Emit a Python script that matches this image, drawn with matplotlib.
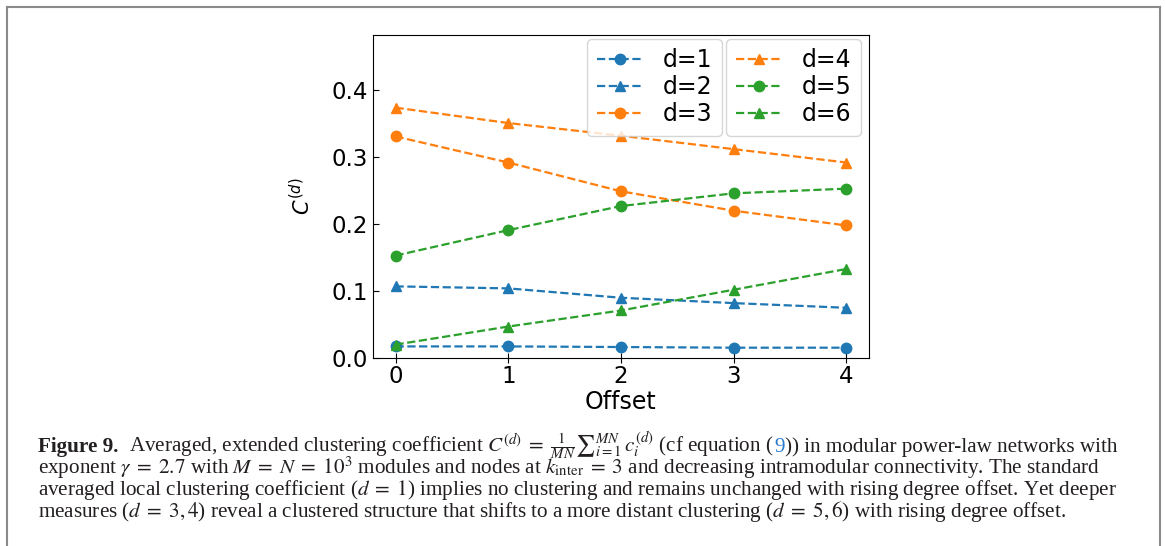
import matplotlib
matplotlib.use("Agg")
import matplotlib.pyplot as plt
from matplotlib.lines import Line2D

# values
offsets = [0, 1, 2, 3, 4]
c_d1 = [0.0173, 0.0173, 0.0164, 0.0154, 0.0154]
c_d2 = [0.107, 0.104, 0.090, 0.082, 0.075]
c_d3 = [0.331, 0.292, 0.249, 0.220, 0.198]
c_d4 = [0.374, 0.351, 0.332, 0.312, 0.292]
c_d5 = [0.153, 0.191, 0.227, 0.246, 0.253]
c_d6 = [0.020, 0.047, 0.071, 0.102, 0.133]
series = [("d=1", c_d1, "C0", "o"), ("d=2", c_d2, "C0", "^"), ("d=3", c_d3, "C1", "o"),
          ("d=4", c_d4, "C1", "^"), ("d=5", c_d5, "C2", "o"), ("d=6", c_d6, "C2", "^")]
yticks = [0.0, 0.1, 0.2, 0.3, 0.4]

EQ = "\\;=\\;"
caption_lines = [
    [("Figure 9.", {"weight": "bold"}),
     ("Averaged, extended clustering coefficient $C^{(d)}" + EQ +
      "\\frac{1}{MN}{\\sum}_{i=1}^{MN}\\, c_i^{(d)}$ (cf equation (", {}),
     ("9", {"color": "#2a7ccf"}),
     (")) in modular power-law networks with", {})],
    [("exponent $\\gamma" + EQ + "2.7$ with $M" + EQ + "N" + EQ + "10^3$ modules and nodes at $k_{\\mathrm{inter}}"
      + EQ + "3$ and decreasing intramodular connectivity. The standard", {})],
    [("averaged local clustering coefficient ($d" + EQ + "1$) implies no clustering and remains unchanged "
      "with rising degree offset. Yet deeper", {})],
    [("measures ($d" + EQ + "3, 4$) reveal a clustered structure that shifts to a more distant "
      "clustering ($d" + EQ + "5, 6$) with rising degree offset.", {})],
]

W, H = 1165, 546
fig = plt.figure(figsize=(W / 100, H / 100), dpi=100)
ax = fig.add_axes([373 / W, 188 / H, 496 / W, 323 / H])

lines = []
for label, vals, col, mk in series:
    ln, = ax.plot(offsets, vals, ls="--", marker=mk, color=col, lw=1.6, ms=7.5, label=label)
    lines.append(ln)

ax.set_xlim(-0.2, 4.2)
ax.set_ylim(0, 0.4825)
ax.set_xticks(offsets)
ax.set_yticks(yticks)
ax.tick_params(labelsize=16.5)
ax.tick_params(axis="y", direction="in", length=4.3)
ax.tick_params(axis="x", direction="inout", length=6.5, pad=2)
ax.set_xlabel("Offset", fontsize=17)
ax.xaxis.set_label_coords(0.5, -0.100)
ax.set_ylabel("$C^{(d)}$", fontsize=15)
ax.yaxis.set_label_coords(-0.118, 0.5)

leg_kw = dict(loc="upper right", borderaxespad=0, fontsize=17, labelspacing=0.13)
leg1 = ax.legend(handles=lines[:3], bbox_to_anchor=(0.7036, 0.988), **leg_kw)
ax.add_artist(leg1)
ax.legend(handles=lines[3:], bbox_to_anchor=(0.984, 0.988), **leg_kw)

# gray frame around the figure panel (open at the bottom)
frame_kw = dict(transform=fig.transFigure, color="#8a8a8a", lw=1.5)
fig.add_artist(Line2D([7 / W, 7 / W], [0, 1 - 7 / H], **frame_kw))
fig.add_artist(Line2D([7 / W, 1160 / W], [1 - 7 / H, 1 - 7 / H], **frame_kw))
fig.add_artist(Line2D([1160 / W, 1160 / W], [1 - 7 / H, 0], **frame_kw))

# caption, laid out run by run along each baseline
renderer = fig.canvas.get_renderer()
x0 = 37.5
baselines = [451.7, 473.5, 495.5, 517.5]


def layout(size):
    arts, widths = [], []
    for y, runs in zip(baselines, caption_lines):
        x = x0
        for s, kw in runs:
            t = fig.text(x / W, 1 - y / H, s, fontsize=size, family="Liberation Serif",
                         math_fontfamily="stix", color=kw.get("color", "#231f20"),
                         weight=kw.get("weight", "normal"), va="baseline", ha="left")
            arts.append(t)
            bb = t.get_window_extent(renderer)
            x = bb.x1 + (11 if kw.get("weight") == "bold" else 0.5)
        widths.append(x - x0)
    return arts, widths


arts, widths = layout(13)
scale = 1080 / widths[0]
for a in arts:
    a.remove()
layout(13 * scale)

fig.savefig("out.png", dpi=100)
